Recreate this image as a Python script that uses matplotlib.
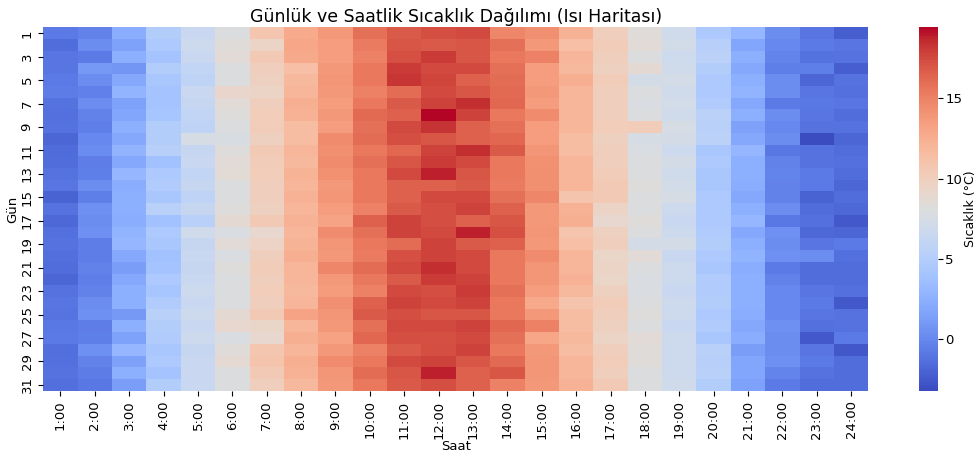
"""Daily / hourly temperature heatmap (coolwarm)."""
import matplotlib
matplotlib.use("Agg")
import matplotlib.pyplot as plt
import numpy as np

# Hour labels (columns) and days (rows)
hours = [f"{h}:00" for h in range(1, 25)]
days = list(range(1, 32))

# Temperatures per hour column, day 1 .. day 31
h01 = [-0.8, -1.5, -1.0, -1.0, -0.8, -0.7, -1.2, -1.3, -1.2, -1.8, -1.6, -1.5, -1.2, -1.0, -2.0, -1.2,
       -1.7, -1.3, -1.2, -1.4, -1.5, -1.8, -1.2, -1.0, -1.1, -0.9, -0.8, -1.4, -1.3, -1.2, -1.4]
h02 = [-0.3, 0.3, -0.8, 1.0, 0.3, -0.4, 0.3, -0.3, -0.5, 0.0, 0.2, -0.6, -0.5, 0.3, -0.5, 0.5,
       0.3, 0.5, -0.6, -0.6, -0.3, -0.5, -0.3, 0.3, 0.5, -0.6, -0.5, 0.5, -0.3, -0.7, -0.9]
h03 = [2.3, 1.5, 2.5, 0.8, 2.0, 2.8, 1.5, 1.8, 2.5, 2.0, 2.8, 2.0, 3.0, 2.3, 2.5, 2.5,
       2.3, 2.8, 3.0, 2.0, 1.3, 2.0, 2.5, 2.5, 1.0, 2.5, 1.5, 3.0, 1.5, 2.5, 1.3]
h04 = [5.0, 4.5, 4.0, 5.0, 4.3, 4.0, 4.0, 4.2, 5.0, 5.0, 5.2, 3.8, 4.5, 4.8, 4.3, 5.3,
       3.8, 4.5, 4.3, 3.8, 4.0, 4.5, 4.2, 4.8, 5.3, 5.0, 4.8, 4.3, 4.5, 4.0, 5.0]
h05 = [6.5, 6.8, 6.5, 6.0, 5.8, 6.5, 6.3, 6.0, 5.8, 7.5, 6.3, 6.5, 6.0, 6.3, 5.8, 6.3,
       5.3, 7.0, 6.3, 6.5, 6.3, 6.5, 6.8, 6.5, 6.8, 6.5, 6.8, 6.3, 6.5, 6.5, 6.5]
h06 = [8.0, 8.3, 8.5, 8.0, 8.0, 9.2, 8.5, 8.2, 8.0, 7.6, 8.2, 8.5, 8.6, 8.0, 8.0, 8.2,
       8.8, 7.8, 8.5, 7.8, 8.2, 8.0, 8.0, 8.0, 8.8, 9.0, 7.8, 8.3, 8.8, 8.0, 8.0]
h07 = [10.8, 9.5, 10.5, 10.0, 9.8, 9.5, 10.0, 10.2, 10.3, 9.8, 10.5, 10.3, 10.2, 10.0, 10.0, 9.8,
       10.5, 9.0, 9.6, 10.0, 10.3, 10.0, 10.2, 10.0, 10.5, 9.3, 9.0, 10.8, 11.0, 10.5, 10.0]
h08 = [12.7, 13.0, 12.8, 11.3, 11.8, 12.0, 12.5, 12.3, 11.5, 11.5, 12.0, 11.8, 12.2, 12.0, 12.3, 12.0,
       12.3, 12.0, 12.2, 12.5, 12.0, 12.0, 11.8, 12.0, 13.2, 12.0, 12.5, 12.0, 12.5, 12.3, 11.8]
h09 = [13.8, 13.5, 13.5, 13.8, 14.0, 13.8, 13.5, 13.8, 13.5, 14.5, 14.3, 14.5, 14.2, 13.8, 14.0, 13.5,
       13.2, 14.5, 14.0, 13.8, 14.8, 13.8, 13.6, 14.3, 14.0, 13.8, 13.3, 13.8, 14.5, 14.0, 13.8]
h10 = [15.8, 15.3, 15.0, 15.5, 15.5, 15.0, 15.5, 16.2, 15.8, 16.0, 15.5, 15.8, 15.5, 15.5, 15.5, 15.0,
       16.5, 15.8, 15.5, 15.3, 16.0, 15.5, 15.0, 16.5, 16.8, 15.8, 16.3, 15.0, 15.5, 16.0, 15.5]
h11 = [16.8, 17.0, 17.2, 18.0, 18.2, 16.0, 16.8, 16.5, 17.5, 17.3, 16.3, 17.0, 17.5, 16.5, 16.5, 16.8,
       17.8, 17.8, 16.0, 17.2, 17.5, 16.8, 17.5, 17.8, 17.3, 17.5, 17.3, 16.8, 17.5, 17.0, 16.8]
h12 = [17.3, 16.8, 18.0, 17.5, 17.7, 17.5, 17.8, 19.4, 18.3, 17.0, 17.8, 18.0, 18.8, 16.5, 17.5, 17.3,
       17.3, 17.5, 17.8, 17.8, 18.5, 18.0, 17.3, 17.5, 17.0, 17.5, 17.2, 17.3, 17.8, 18.8, 17.3]
h13 = [17.5, 17.0, 17.0, 17.5, 16.5, 17.0, 18.5, 17.8, 16.5, 16.5, 18.5, 17.5, 17.0, 16.8, 17.5, 17.8,
       16.5, 18.8, 16.8, 17.5, 17.5, 17.8, 18.0, 17.8, 17.0, 17.8, 17.5, 17.8, 17.0, 16.5, 16.5]
h14 = [14.8, 15.8, 15.5, 15.8, 16.0, 16.2, 16.3, 15.5, 15.8, 16.3, 16.8, 15.5, 15.5, 15.3, 15.8, 16.5,
       17.0, 17.2, 16.5, 15.5, 15.5, 15.5, 15.8, 15.5, 15.5, 16.3, 15.8, 15.5, 16.2, 17.0, 15.0]
h15 = [14.3, 13.8, 15.0, 13.5, 13.5, 13.8, 13.5, 14.5, 13.5, 13.5, 14.0, 14.2, 14.3, 14.3, 14.8, 13.8,
       13.8, 14.0, 13.8, 14.5, 14.0, 14.0, 13.5, 12.8, 13.8, 15.0, 13.0, 13.8, 14.0, 14.0, 13.8]
h16 = [12.3, 11.3, 12.0, 11.8, 12.5, 12.0, 12.0, 12.0, 12.0, 11.5, 11.5, 12.0, 12.0, 12.0, 11.0, 12.3,
       12.5, 11.0, 11.3, 12.0, 12.0, 12.3, 11.8, 11.0, 11.5, 11.5, 11.8, 11.5, 12.0, 12.0, 12.3]
h17 = [10.0, 10.3, 10.0, 9.8, 10.3, 10.0, 10.0, 10.0, 10.2, 9.8, 10.0, 10.0, 10.3, 10.5, 10.5, 9.5,
       9.0, 9.8, 10.0, 9.3, 9.5, 9.3, 9.8, 10.3, 10.0, 9.8, 9.5, 10.0, 10.3, 10.0, 10.5]
h18 = [8.3, 8.5, 8.0, 8.8, 7.3, 8.0, 7.8, 8.0, 10.3, 7.5, 7.8, 8.0, 8.0, 8.2, 8.0, 8.0,
       8.3, 8.0, 7.3, 8.5, 8.0, 7.8, 7.8, 8.0, 8.2, 8.0, 8.5, 8.3, 8.3, 8.0, 8.0]
h19 = [7.0, 7.2, 6.8, 7.0, 7.3, 7.0, 7.2, 7.0, 7.5, 7.3, 6.8, 7.3, 7.0, 7.2, 7.5, 6.8,
       6.5, 6.8, 7.3, 6.5, 6.8, 6.8, 6.5, 6.8, 6.8, 6.5, 6.8, 6.8, 6.8, 6.8, 7.0]
h20 = [4.5, 5.2, 5.5, 5.0, 4.5, 4.5, 4.8, 5.5, 5.3, 5.5, 4.3, 4.5, 4.3, 4.3, 4.5, 4.5,
       4.5, 4.8, 5.0, 4.5, 4.3, 4.8, 4.8, 5.0, 4.5, 4.8, 4.3, 5.3, 5.2, 5.3, 5.0]
h21 = [3.0, 1.8, 2.5, 2.0, 2.5, 2.8, 2.0, 2.5, 1.5, 2.0, 3.0, 2.5, 2.5, 2.3, 2.0, 2.5,
       3.0, 2.0, 2.5, 2.8, 2.3, 2.5, 2.5, 2.5, 2.3, 2.0, 2.3, 1.3, 1.8, 1.8, 1.5]
h22 = [0.3, 0.0, -0.2, -0.5, 0.3, 0.3, -0.8, 0.3, 0.0, 0.3, -0.9, -0.3, -0.2, -0.3, -0.3, 0.3,
       -0.9, 0.5, 0.3, 0.5, -0.8, -0.3, 0.0, 0.0, 0.0, 0.5, 0.3, 0.3, 0.5, -0.2, -0.8]
h23 = [-1.0, -0.8, -1.2, -0.5, -1.8, -1.0, -0.9, -1.0, -1.2, -3.2, -1.2, -1.2, -0.8, -0.8, -2.0, -1.5,
       -1.3, -1.7, -1.0, 0.3, -1.5, -1.5, -1.0, -0.8, -1.0, -1.3, -2.5, -1.0, -0.8, -1.2, -1.5]
h24 = [-2.3, -1.0, -1.2, -2.3, -1.2, -1.3, -1.0, -1.5, -1.2, -1.8, -1.5, -1.3, -1.5, -1.8, -1.5, -1.7,
       -2.5, -1.8, -0.8, -1.3, -1.5, -1.5, -1.3, -2.5, -1.2, -1.2, -0.8, -2.6, -1.5, -1.5, -1.5]

temps = np.column_stack([h01, h02, h03, h04, h05, h06, h07, h08, h09, h10, h11, h12,
                         h13, h14, h15, h16, h17, h18, h19, h20, h21, h22, h23, h24])

fig = plt.figure(figsize=(9.79, 4.57), dpi=100)
ax = fig.add_axes([0.0442, 0.145, 0.8428, 0.795])
cax = fig.add_axes([0.9387, 0.145, 0.0191, 0.795])

# pcolormesh on integer cell edges, day 1 at the top (like seaborn)
mesh = ax.pcolormesh(np.arange(len(hours) + 1), np.arange(len(days) + 1), temps,
                     cmap="coolwarm", vmin=temps.min(), vmax=temps.max())
ax.set_xlim(0, len(hours))
ax.set_ylim(len(days), 0)
for s in ax.spines.values():
    s.set_visible(False)

ax.set_xticks(np.arange(len(hours)) + 0.5)
ax.set_xticklabels(hours, rotation=90, fontsize=9.5)
ax.set_yticks(np.arange(0, len(days), 2) + 0.5)
ax.set_yticklabels([str(d) for d in days[::2]], rotation=90, va="center", fontsize=9.5)

ax.set_title("Günlük ve Saatlik Sıcaklık Dağılımı (Isı Haritası)", fontsize=12.5, pad=4)
ax.set_xlabel("Saat", fontsize=9.5, labelpad=1)
ax.set_ylabel("Gün", fontsize=9.5, labelpad=1)

cb = fig.colorbar(mesh, cax=cax)
cb.outline.set_linewidth(0)
cb.set_ticks([0, 5, 10, 15])
cb.ax.tick_params(labelsize=9.5, pad=2)
cb.set_label("Sıcaklık (°C)", fontsize=9, labelpad=1)

fig.savefig("out.png", dpi=100, facecolor="white")
